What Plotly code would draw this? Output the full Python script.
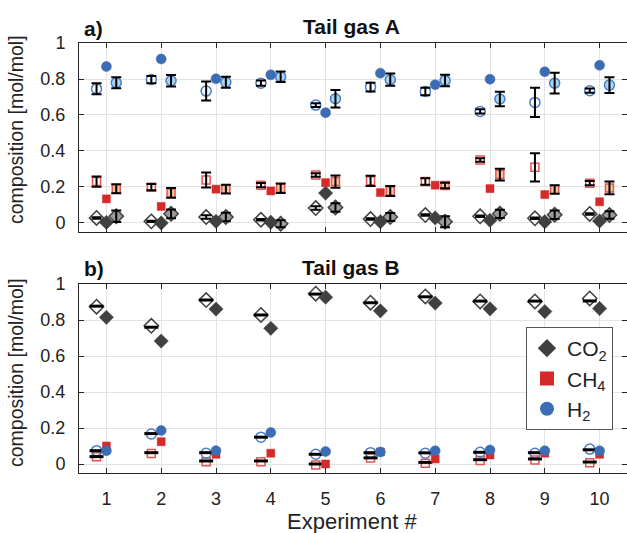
import plotly.graph_objects as go
from plotly.subplots import make_subplots

# ---------------- data ----------------
experiments = [1, 2, 3, 4, 5, 6, 7, 8, 9, 10]
x_ticks = [1, 2, 3, 4, 5, 6, 7, 8, 9, 10]
x_ticktext = ["1", "2", "3", "4", "5", "6", "7", "8", "9", "10"]
y_ticks = [0, 0.2, 0.4, 0.6, 0.8, 1.0]
y_ticktext = ["0", "0.2", "0.4", "0.6", "0.8", "1"]

# Tail gas A (panel a)
A_H2_meas = [0.746, 0.797, 0.733, 0.777, 0.655, 0.755, 0.731, 0.620, 0.670, 0.735]
A_H2_meas_err = [0.031, 0.020, 0.053, 0.015, 0.010, 0.024, 0.021, 0.012, 0.081, 0.012]
A_H2_sim = [0.869, 0.911, 0.801, 0.823, 0.613, 0.832, 0.768, 0.799, 0.840, 0.876]
A_H2_alt = [0.779, 0.790, 0.782, 0.812, 0.690, 0.796, 0.792, 0.689, 0.777, 0.766]
A_H2_alt_err = [0.031, 0.032, 0.031, 0.029, 0.049, 0.034, 0.032, 0.040, 0.058, 0.044]

A_CH4_meas = [0.230, 0.199, 0.239, 0.210, 0.267, 0.234, 0.230, 0.350, 0.309, 0.221]
A_CH4_meas_err = [0.028, 0.017, 0.042, 0.012, 0.010, 0.028, 0.018, 0.010, 0.078, 0.012]
A_CH4_sim = [0.134, 0.092, 0.188, 0.178, 0.224, 0.169, 0.210, 0.191, 0.158, 0.118]
A_CH4_alt = [0.190, 0.167, 0.188, 0.193, 0.230, 0.178, 0.208, 0.269, 0.186, 0.195]
A_CH4_alt_err = [0.025, 0.027, 0.024, 0.026, 0.034, 0.028, 0.015, 0.033, 0.023, 0.036]

A_CO2_meas = [0.028, 0.009, 0.033, 0.018, 0.083, 0.022, 0.044, 0.037, 0.026, 0.050]
A_CO2_meas_err = [0.004, 0.004, 0.010, 0.004, 0.010, 0.004, 0.004, 0.004, 0.004, 0.004]
A_CO2_sim = [0.003, 0.000, 0.009, 0.004, 0.166, 0.007, 0.028, 0.015, 0.007, 0.011]
A_CO2_alt = [0.037, 0.051, 0.033, -0.004, 0.086, 0.033, 0.007, 0.051, 0.046, 0.044]
A_CO2_alt_err = [0.032, 0.024, 0.024, 0.019, 0.023, 0.022, 0.030, 0.023, 0.024, 0.021]

# Tail gas B (panel b)
B_CO2_meas = [0.874, 0.768, 0.911, 0.828, 0.946, 0.896, 0.931, 0.903, 0.903, 0.920]
B_CO2_bar = [0.877, 0.760, 0.911, 0.828, 0.944, 0.896, 0.929, 0.905, 0.905, 0.906]
B_CO2_sim = [0.815, 0.683, 0.861, 0.754, 0.927, 0.851, 0.894, 0.862, 0.847, 0.864]

B_CH4_meas = [0.041, 0.059, 0.013, 0.013, -0.006, 0.034, 0.004, 0.019, 0.022, 0.007]
B_CH4_bar = [0.041, 0.063, 0.017, 0.017, 0.000, 0.034, 0.009, 0.024, 0.028, 0.011]
B_CH4_sim = [0.100, 0.124, 0.054, 0.060, 0.000, 0.067, 0.028, 0.050, 0.060, 0.054]

B_H2_meas = [0.074, 0.167, 0.060, 0.149, 0.054, 0.063, 0.060, 0.065, 0.060, 0.083]
B_H2_bar = [0.074, 0.169, 0.063, 0.149, 0.054, 0.063, 0.062, 0.065, 0.063, 0.079]
B_H2_sim = [0.074, 0.186, 0.074, 0.175, 0.069, 0.067, 0.073, 0.078, 0.073, 0.073]

OFFSET = 0.18
x_left = [e - OFFSET for e in experiments]
x_mid = experiments
x_right = [e + OFFSET for e in experiments]

# ---------------- styles ----------------
FONT = "Liberation Sans, Arial, sans-serif"
DARK = "#404040"
RED = "#d42a2a"
RED_EDGE = "#e25555"
BLUE = "#3c6db4"
BLUE_EDGE = "#4a7cc6"
GREY_LIGHT = "#9b9b9b"
PEACH = "#f8c79e"
SKY = "#a9d6ef"

species = {
    "CO2": dict(symbol="diamond", size=11, fill=DARK, edge=DARK, light=GREY_LIGHT, openedge=DARK),
    "CH4": dict(symbol="square", size=8, fill=RED, edge=RED, light=PEACH, openedge=RED_EDGE),
    "H2": dict(symbol="circle", size=10, fill=BLUE, edge=BLUE, light=SKY, openedge=BLUE_EDGE),
}
labels = {"CO2": "CO<sub>2</sub>", "CH4": "CH<sub>4</sub>", "H2": "H<sub>2</sub>"}

fig = make_subplots(rows=2, cols=1)


def err_trace(x, y, err, row):
    fig.add_trace(go.Scatter(
        x=x, y=y, mode="markers",
        marker=dict(size=1, color="rgba(0,0,0,0)"),
        error_y=dict(type="data", array=err, visible=True, color="black",
                     thickness=2, width=5),
        showlegend=False, hoverinfo="skip"), row=row, col=1)


def open_trace(x, y, sp, row):
    s = species[sp]
    fig.add_trace(go.Scatter(
        x=x, y=y, mode="markers",
        marker=dict(symbol=s["symbol"] + "-open", size=s["size"], color=s["openedge"],
                    line=dict(width=1.5, color=s["openedge"])),
        showlegend=False), row=row, col=1)


def filled_trace(x, y, sp, row, legend):
    s = species[sp]
    fig.add_trace(go.Scatter(
        x=x, y=y, mode="markers", name=labels[sp],
        marker=dict(symbol=s["symbol"], size=s["size"], color=s["fill"],
                    line=dict(width=0.5, color=s["edge"])),
        showlegend=legend), row=row, col=1)


def light_trace(x, y, sp, row):
    s = species[sp]
    fig.add_trace(go.Scatter(
        x=x, y=y, mode="markers",
        marker=dict(symbol=s["symbol"], size=s["size"], color=s["light"],
                    line=dict(width=1.5, color=s["openedge"])),
        showlegend=False), row=row, col=1)


# ---- panel a ----
A = {
    "CO2": (A_CO2_meas, A_CO2_meas_err, A_CO2_sim, A_CO2_alt, A_CO2_alt_err),
    "CH4": (A_CH4_meas, A_CH4_meas_err, A_CH4_sim, A_CH4_alt, A_CH4_alt_err),
    "H2": (A_H2_meas, A_H2_meas_err, A_H2_sim, A_H2_alt, A_H2_alt_err),
}
for sp, (meas, merr, sim, alt, aerr) in A.items():
    open_trace(x_left, meas, sp, 1)
    err_trace(x_left, meas, merr, 1)
for sp, (meas, merr, sim, alt, aerr) in A.items():
    light_trace(x_right, alt, sp, 1)
    err_trace(x_right, alt, aerr, 1)
for sp, (meas, merr, sim, alt, aerr) in A.items():
    filled_trace(x_mid, sim, sp, 1, False)

# ---- panel b ----
B = {
    "CO2": (B_CO2_meas, B_CO2_bar, B_CO2_sim),
    "CH4": (B_CH4_meas, B_CH4_bar, B_CH4_sim),
    "H2": (B_H2_meas, B_H2_bar, B_H2_sim),
}
for sp, (meas, bar, sim) in B.items():
    open_trace(x_left, meas, sp, 2)
for sp, (meas, bar, sim) in B.items():
    fig.add_trace(go.Scatter(
        x=x_left, y=bar, mode="markers",
        marker=dict(symbol="line-ew", size=10, line=dict(width=3, color="black")),
        showlegend=False), row=2, col=1)
for sp, (meas, bar, sim) in B.items():
    filled_trace(x_mid, sim, sp, 2, True)

# ---------------- layout ----------------
TICKFONT = dict(family=FONT, size=18, color="#222")
axis_common = dict(
    range=[0.5, 10.5], tickvals=x_ticks, ticktext=x_ticktext,
    showline=True, linecolor="#262626", linewidth=1, mirror="ticks",
    ticks="inside", ticklen=5, tickcolor="#262626",
    showgrid=True, gridcolor="#e3e3e3", gridwidth=1, zeroline=False,
    tickfont=TICKFONT,
)
yaxis_common = dict(
    range=[-0.05, 1.0], tickvals=y_ticks, ticktext=y_ticktext,
    showline=True, linecolor="#262626", linewidth=1, mirror="ticks",
    ticks="inside", ticklen=5, tickcolor="#262626",
    showgrid=True, gridcolor="#e3e3e3", gridwidth=1, zeroline=False,
    tickfont=TICKFONT, ticklabelstandoff=9,
)


def py(pix):
    """convert a pixel row of the figure to paper y coordinate"""
    return (473 - pix) / 430


def px(pix):
    return (pix - 79) / 548


TITLEFONT = dict(family=FONT, size=21, color="#111")
YLABELFONT = dict(family=FONT, size=19.5, color="#222")
XLABELFONT = dict(family=FONT, size=22, color="#222")

fig.update_layout(
    template="none",
    width=627, height=533,
    margin=dict(l=79, r=0, t=43, b=60),
    paper_bgcolor="white", plot_bgcolor="white",
    font=dict(family=FONT, color="#222"),
    xaxis=dict(axis_common, domain=[0, 1], showticklabels=False, anchor="y"),
    yaxis=dict(yaxis_common, domain=[0.5605, 1.0], anchor="x"),
    xaxis2=dict(axis_common, domain=[0, 1], showticklabels=True, anchor="y2",
                ticklabelstandoff=9),
    yaxis2=dict(yaxis_common, domain=[0, 0.4395], anchor="x2"),
    showlegend=True,
    legend=dict(x=px(526), y=py(327), xanchor="left", yanchor="top",
                bgcolor="white", bordercolor="#555", borderwidth=1,
                font=dict(family=FONT, size=21, color="#222"),
                itemsizing="constant", tracegroupgap=0),
    annotations=[
        dict(text="<b>Tail gas A</b>", x=px(351), y=py(27), xref="paper", yref="paper",
             showarrow=False, font=TITLEFONT, xanchor="center", yanchor="middle"),
        dict(text="<b>Tail gas B</b>", x=px(351), y=py(267), xref="paper", yref="paper",
             showarrow=False, font=TITLEFONT, xanchor="center", yanchor="middle"),
        dict(text="<b>a)</b>", x=px(82), y=py(29), xref="paper", yref="paper",
             showarrow=False, font=TITLEFONT, xanchor="left", yanchor="middle"),
        dict(text="<b>b)</b>", x=px(82), y=py(268), xref="paper", yref="paper",
             showarrow=False, font=TITLEFONT, xanchor="left", yanchor="middle"),
        dict(text="composition [mol/mol]", x=px(16), y=py(130),
             xref="paper", yref="paper", textangle=-90, showarrow=False,
             font=YLABELFONT, xanchor="center", yanchor="middle"),
        dict(text="composition [mol/mol]", x=px(16), y=py(373),
             xref="paper", yref="paper", textangle=-90, showarrow=False,
             font=YLABELFONT, xanchor="center", yanchor="middle"),
        dict(text="Experiment #", x=px(352), y=py(521), xref="paper", yref="paper",
             showarrow=False, font=XLABELFONT, xanchor="center", yanchor="middle"),
    ],
)

fig.write_html("out.html", config={"displayModeBar": False},
               post_script="document.body.style.margin='0';document.body.style.padding='0';")
